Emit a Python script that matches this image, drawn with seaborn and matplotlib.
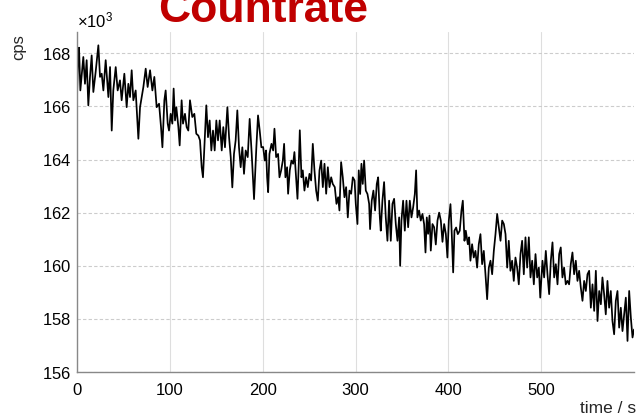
import matplotlib
matplotlib.use("Agg")
import matplotlib.pyplot as plt
from matplotlib.ticker import MultipleLocator, FixedLocator, ScalarFormatter
import numpy as np
import pandas as pd
import seaborn as sns

# ---- data (time in s, count rate in 10^3 cps) ----
time_0_100 = [0, 1.0, 2.2, 3.6, 5.0, 6.8, 8.6, 10.4, 12.2, 14.0, 15.8, 17.6, 20.1, 23.0, 24.8, 26.6,
              28.4, 30.9, 33.8, 35.6, 37.4, 39.1, 41.7, 43.8, 46.3, 48.1, 51.0, 53.5, 55.3, 57.1,
              58.9, 60.7, 63.2, 66.1, 67.9, 71.5, 74.0, 76.1, 78.7, 81.2, 83.3, 85.8, 88.4, 90.5,
              92.0, 94.1, 95.5, 97.7]
kcps_0_100 = [166.4, 167.6, 168.21, 166.6, 167.17, 167.86, 166.85, 167.74, 166.04, 167.11, 167.92,
              166.54, 167.30, 168.30, 167.11, 167.23, 166.6, 167.74, 166.35, 167.48, 165.09, 166.6,
              167.48, 166.6, 166.98, 166.23, 167.23, 165.97, 166.85, 166.35, 167.36, 166.23, 166.6,
              164.78, 165.97, 166.73, 167.42, 166.73, 167.36, 166.6, 167.11, 165.97, 166.1, 165.22,
              164.46, 166.23, 166.6, 165.35]

time_100_200 = [99.1, 100.9, 102.7, 104.1, 105.6, 107.0, 109.2, 110.6, 112.7, 114.2, 116.3, 118.1,
                119.9, 121.7, 124.2, 126.4, 128.5, 130.7, 132.5, 134.3, 135.7, 137.5, 139.3, 141.1,
                142.9, 144.7, 146.5, 148.3, 150.1, 151.9, 153.7, 155.9, 157.6, 159.4, 162.0, 163.8,
                165.6, 167.3, 169.1, 170.9, 172.7, 174.5, 176.3, 178.1, 179.9, 181.7, 183.9, 186.0,
                188.2, 190.7, 193.2, 195.0, 196.8, 198.6]
kcps_100_200 = [165.09, 165.72, 165.35, 166.67, 165.47, 165.97, 165.22, 164.53, 166.23, 165.35,
                165.72, 165.22, 165.09, 166.23, 165.6, 165.72, 164.97, 164.9, 164.72, 163.71, 163.33,
                164.72, 166.04, 164.84, 165.47, 164.34, 165.09, 164.34, 165.47, 164.72, 165.47,
                164.34, 165.22, 164.46, 165.97, 164.84, 164.09, 162.95, 164.21, 164.72, 165.85,
                164.46, 163.71, 164.46, 163.46, 164.34, 164.09, 165.53, 164.21, 162.51, 164.46,
                165.66, 165.09, 164.46]

time_200_300 = [200.5, 202.3, 203.7, 204.8, 205.9, 207.3, 209.5, 211.3, 212.7, 214.5, 216.6, 218.1,
                219.9, 221.7, 223.1, 224.5, 226.3, 227.4, 229.2, 231.0, 232.8, 234.2, 236.0, 237.5,
                238.9, 240.0, 241.8, 243.2, 245.0, 246.8, 248.6, 250.4, 252.2, 254.0, 255.8, 257.6,
                259.4, 261.2, 263.0, 264.8, 266.6, 268.4, 270.2, 272.0, 273.8, 275.5, 277.7, 279.5,
                281.3, 282.7, 284.5, 286.3, 288.1, 289.9, 291.7, 293.5, 295.3, 297.1]
kcps_200_300 = [164.47, 163.96, 164.34, 163.33, 162.77, 164.21, 164.59, 164.34, 165.16, 164.09,
                164.21, 163.33, 163.59, 163.96, 164.59, 163.33, 163.71, 162.71, 163.59, 163.96,
                163.84, 164.28, 163.33, 162.52, 163.84, 165.1, 163.33, 163.59, 162.83, 163.33,
                162.96, 163.46, 163.21, 164.59, 163.59, 162.83, 162.45, 163.59, 163.96, 162.96,
                163.84, 162.71, 163.71, 162.96, 163.33, 163.08, 162.96, 162.33, 162.58, 162.08,
                163.9, 163.33, 162.58, 162.96, 161.82, 162.83, 162.71, 163.33]

time_300_400 = [299.0, 300.3, 302.1, 303.5, 305.0, 306.4, 307.8, 309.3, 311.1, 312.9, 314.7, 315.7,
                317.5, 319.3, 321.1, 322.9, 324.4, 326.2, 327.2, 329.0, 330.8, 332.6, 334.4, 336.2,
                338.0, 339.8, 341.6, 343.4, 345.2, 347.0, 348.1, 349.5, 351.3, 353.1, 354.9, 356.7,
                358.5, 360.3, 362.1, 363.9, 365.3, 366.7, 368.5, 370.3, 372.1, 373.9, 375.4, 376.8,
                378.2, 379.7, 381.1, 382.9, 384.7, 386.5, 388.3, 390.1, 391.9, 393.7, 395.5, 397.3]
kcps_300_400 = [163.21, 162.33, 161.57, 163.59, 162.7, 163.84, 163.08, 163.96, 162.83, 162.7,
                162.33, 161.38, 162.45, 162.83, 162.08, 163.08, 163.33, 161.82, 161.32, 162.45,
                163.15, 161.82, 160.94, 162.45, 160.94, 162.33, 162.52, 161.57, 160.94, 161.82,
                160.0, 161.7, 162.45, 161.32, 162.45, 161.45, 162.45, 161.82, 162.2, 162.7, 163.59,
                161.82, 162.08, 161.7, 161.95, 161.57, 160.5, 161.82, 161.2, 161.89, 160.57, 161.57,
                161.45, 160.8, 161.7, 162.0, 161.7, 160.9, 161.57, 161.2]

time_400_500 = [399.0, 400.5, 402.3, 403.7, 405.2, 406.6, 408.4, 410.2, 412.3, 414.1, 415.6, 417.4,
                418.8, 421.0, 422.4, 423.8, 425.6, 427.4, 429.2, 431.0, 432.8, 434.6, 436.4, 438.2,
                440.0, 441.8, 443.6, 445.4, 447.2, 449.0, 450.8, 452.6, 454.4, 456.2, 458.0, 459.8,
                461.6, 463.4, 465.1, 466.9, 468.7, 470.5, 472.3, 474.1, 475.9, 477.7, 479.5, 481.3,
                483.1, 484.9, 486.7, 488.5, 490.3, 492.1, 493.9, 495.7, 497.5, 499.0]
kcps_400_500 = [160.31, 161.7, 162.32, 161.19, 159.75, 161.32, 161.44, 161.19, 161.32, 162.07,
                162.45, 160.94, 161.32, 160.81, 161.07, 160.19, 160.81, 160.31, 160.56, 159.93,
                160.81, 161.19, 160.06, 160.56, 159.68, 158.74, 159.93, 160.19, 159.68, 160.56,
                161.19, 161.95, 161.44, 160.94, 161.7, 161.57, 161.19, 159.93, 160.94, 159.81,
                160.19, 159.43, 160.31, 159.93, 159.3, 160.44, 160.94, 159.68, 161.07, 159.93,
                161.07, 159.56, 160.19, 159.3, 160.44, 159.56, 159.93, 158.8]

time_500_600 = [501.4, 503.2, 505.0, 506.8, 508.6, 510.4, 512.2, 514.0, 515.8, 517.6, 519.4, 521.1,
                522.9, 524.7, 526.5, 528.3, 530.1, 531.9, 533.7, 535.5, 537.3, 539.1, 540.9, 542.7,
                544.5, 546.3, 548.1, 549.9, 551.7, 553.5, 555.3, 557.1, 558.9, 560.7, 562.5, 564.3,
                566.0, 567.8, 569.6, 571.4, 573.2, 575.0, 576.8, 578.6, 580.4, 582.2, 584.0, 585.8,
                587.6, 589.4, 591.2, 593.0, 594.8, 596.6, 598.4, 600.0]
kcps_500_600 = [160.19, 159.56, 160.56, 159.68, 158.93, 160.19, 160.88, 159.56, 160.06, 159.3,
                160.44, 160.69, 159.56, 159.93, 159.3, 159.43, 159.3, 160.06, 160.5, 159.68, 160.19,
                159.43, 159.81, 159.18, 158.68, 159.43, 159.05, 159.68, 159.81, 158.42, 159.3, 158.3,
                159.81, 157.92, 159.05, 158.55, 159.56, 158.93, 158.17, 159.43, 158.42, 159.05,
                157.92, 157.42, 158.68, 159.05, 157.67, 158.42, 157.54, 158.17, 158.8, 157.17,
                159.05, 158.05, 157.3, 157.6]

x_tick_values = [0, 100, 200, 300, 400, 500]
title_text = "Countrate"
y_label = "cps"
x_label = "time / s"

# ---- build table ----
times = time_0_100 + time_100_200 + time_200_300 + time_300_400 + time_400_500 + time_500_600
kcps = kcps_0_100 + kcps_100_200 + kcps_200_300 + kcps_300_400 + kcps_400_500 + kcps_500_600
df = pd.DataFrame({"time": times, "cps": np.array(kcps) * 1000.0})

sns.set_style("white")
plt.rcParams["font.family"] = ["Liberation Sans", "DejaVu Sans"]
plt.rcParams["mathtext.fontset"] = "custom"
plt.rcParams["mathtext.rm"] = "Liberation Sans"

W, H = 636, 419
fig = plt.figure(figsize=(W / 100, H / 100), dpi=100)
ax = fig.add_axes([77 / W, 1 - 372 / H, 557 / W, 340 / H])

sns.lineplot(data=df, x="time", y="cps", color="black", linewidth=1.25, ax=ax,
             estimator=None, sort=False)

ax.set_xlim(0, 600)
ax.set_ylim(156000, 168800)

ax.xaxis.set_major_locator(FixedLocator(x_tick_values))
ax.xaxis.set_minor_locator(MultipleLocator(20))
ax.yaxis.set_major_locator(MultipleLocator(2000))
ax.yaxis.set_minor_locator(MultipleLocator(500))

fmt = ScalarFormatter(useMathText=True)
fmt.set_powerlimits((3, 3))
ax.yaxis.set_major_formatter(fmt)
ax.yaxis.get_offset_text().set_fontsize(12)

ax.grid(True, which="major", axis="y", color="#cccccc", linestyle=(0, (3, 2)), linewidth=0.8)
ax.grid(True, which="major", axis="x", color="#dedede", linestyle="-", linewidth=0.8)

for s in ["top", "right"]:
    ax.spines[s].set_visible(False)
for s in ["left", "bottom"]:
    ax.spines[s].set_color("#888888")
    ax.spines[s].set_linewidth(1.0)

ax.tick_params(axis="both", which="major", direction="in", length=7, width=0.8,
               color="#888888", labelsize=12, labelcolor="black")
ax.tick_params(axis="both", which="minor", direction="in", length=4, width=0.8, color="#888888")
ax.tick_params(axis="x", which="major", pad=8)
ax.tick_params(axis="y", which="major", pad=4)

ax.set_ylabel(y_label, fontsize=12, rotation=90)
ax.yaxis.set_label_coords(-0.092, 0.955)
ax.set_xlabel(x_label, fontsize=12.5, ha="right")
ax.xaxis.set_label_coords(1.004, -0.085)

fig.text(263 / W, 1 - 22 / H, title_text, ha="center", va="baseline",
         fontsize=32, fontweight="bold", color="#c00000")

fig.savefig("out.png", dpi=100)
